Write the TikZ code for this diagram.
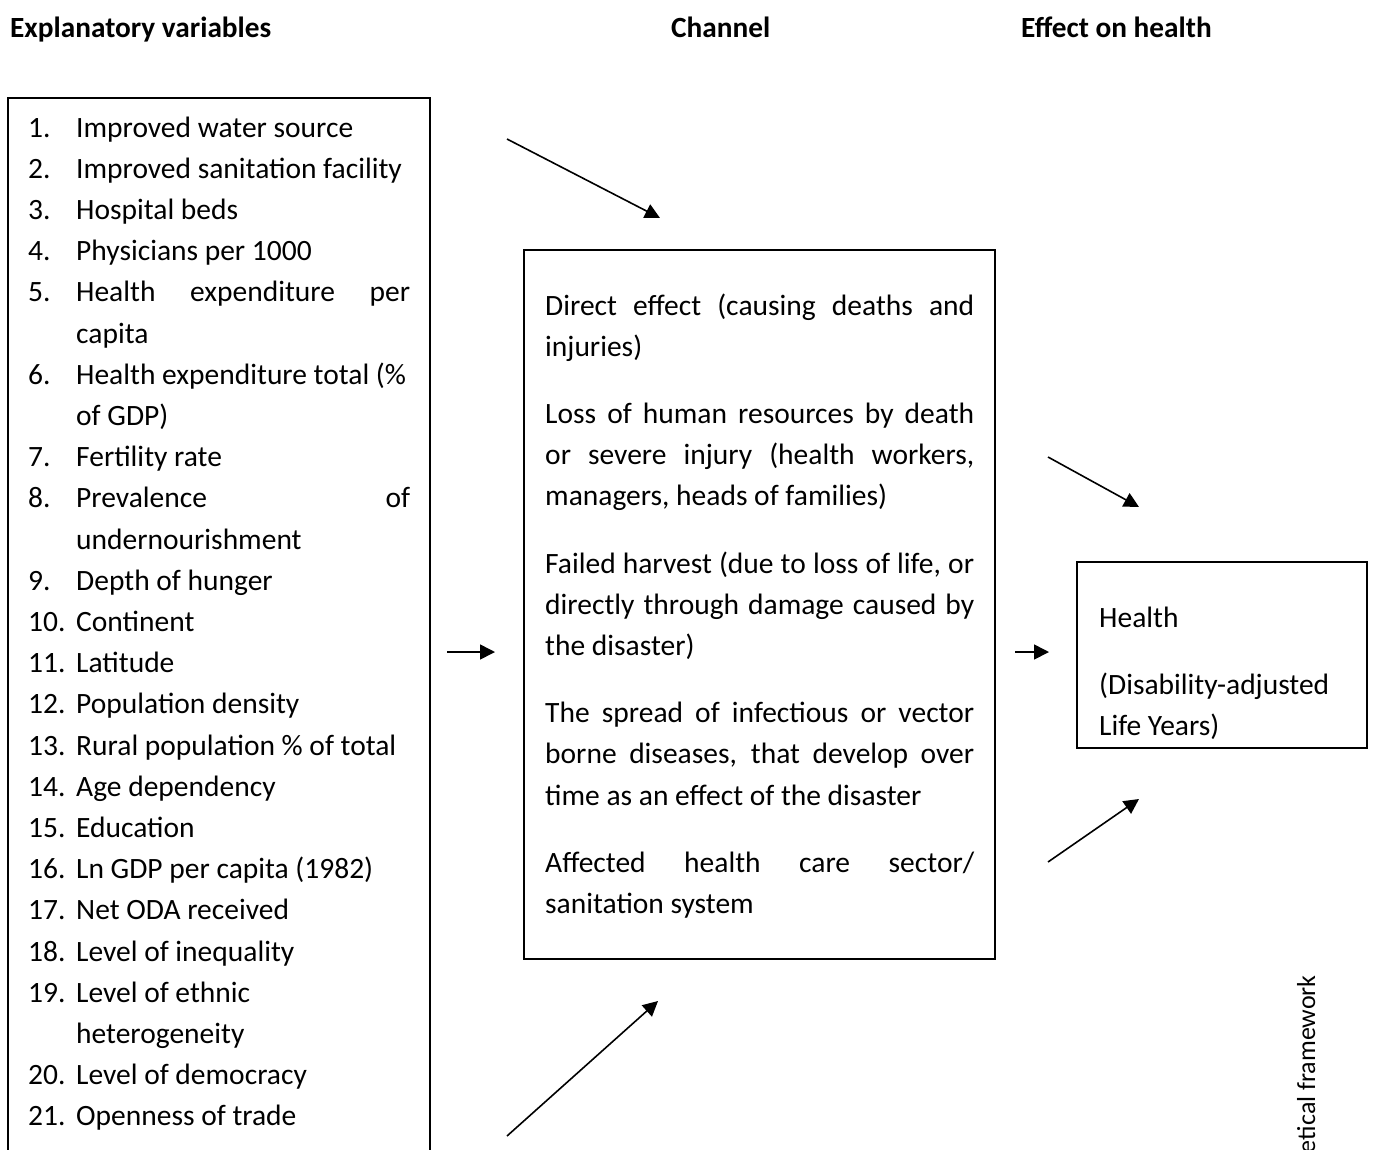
\documentclass[tikz,border=0pt]{standalone}
\usepackage{fontspec}
\setmainfont{Carlito}
\usetikzlibrary{arrows.meta}
\tikzset{
  boxline/.style={draw=black, line width=1.6pt},
  arr/.style={line width=1.6pt, -{Triangle[length=15pt,width=15pt]}},
  txt/.style={inner sep=0pt, anchor=base west, font=\fontsize{29.5}{41.2}\selectfont},
  hdr/.style={inner sep=0pt, anchor=base west, font=\fontsize{29.3}{35}\selectfont\bfseries},
}
\newcommand{\resetsp}{\spaceskip=0pt\relax\xspaceskip=0pt\relax\rightskip=0pt plus 1fil\relax\parindent=0pt\relax}
\newcommand{\numi}[1]{\makebox[48pt][l]{#1}}
\newcommand{\jline}[2]{\makebox[#1][s]{\spaceskip=0pt\relax\xspaceskip=0pt\relax#2}}
\begin{document}
\begin{tikzpicture}[x=1pt,y=-1pt]
\path[use as bounding box] (0,0) rectangle (1373,1149);
\clip (0,0) rectangle (1373,1149);
\fill[white] (0,0) rectangle (1373,1149);

% headers
\node[hdr] (h1) at (10,37) {\resetsp Explanatory variables};
\node[hdr] (h2) at (671,37) {Channel};
\node[hdr] (h3) at (1021,37) {\resetsp Effect on health};

% boxes
\draw[boxline] (8,98) rectangle (430,1170);
\draw[boxline] (524,250) rectangle (995,959);
\draw[boxline] (1077,562) rectangle (1367,748);

% left list
\node[txt, text width=390pt] (list) at (28,137) {\resetsp
\numi{1.}Improved water source\\
\numi{2.}Improved sanitation facility\\
\numi{3.}Hospital beds\\
\numi{4.}Physicians per 1000\\
\numi{5.}\jline{334pt}{Health expenditure per}\\
\numi{}capita\\
\numi{6.}Health expenditure total (\%\\
\numi{}of GDP)\\
\numi{7.}Fertility rate\\
\numi{8.}\jline{334pt}{Prevalence\hfill of}\\
\numi{}undernourishment\\
\numi{9.}Depth of hunger\\
\numi{10.}Continent\\
\numi{11.}Latitude\\
\numi{12.}Population density\\
\numi{13.}Rural population \% of total\\
\numi{14.}Age dependency\\
\numi{15.}Education\\
\numi{16.}Ln GDP per capita (1982)\\
\numi{17.}Net ODA received\\
\numi{18.}Level of inequality\\
\numi{19.}Level of ethnic\\
\numi{}heterogeneity\\
\numi{20.}Level of democracy\\
\numi{21.}Openness of trade};

% middle text
\node[txt, text width=435pt] (chan) at (545,315) {\resetsp
\jline{429pt}{Direct effect (causing deaths and}\\
injuries)\\[26pt]
\jline{429pt}{Loss of human resources by death}\\
\jline{429pt}{or severe injury (health workers,}\\
managers, heads of families)\\[26pt]
\jline{429pt}{Failed harvest (due to loss of life, or}\\
\jline{429pt}{directly through damage caused by}\\
the disaster)\\[26pt]
\jline{429pt}{The spread of infectious or vector}\\
\jline{429pt}{borne diseases, that develop over}\\
time as an effect of the disaster\\[26pt]
\jline{429pt}{Affected health care sector/}\\
sanitation system};

% right text
\node[txt, text width=260pt] (health) at (1099,627) {\resetsp
Health\\[26pt]
(Disability-adjusted\\
Life Years)};

% rotated caption (cut off at the lower edge, as in the reference)
\node[inner sep=0pt, rotate=90, anchor=base east, font=\fontsize{26}{30}\selectfont] (cap) at (1315,975) {\resetsp Theoretical framework};

% arrows
\coordinate (a1s) at (507,139); \coordinate (a1e) at (660,218);
\coordinate (a2s) at (447,652); \coordinate (a2e) at (495,652);
\coordinate (a3s) at (507,1136); \coordinate (a3e) at (658,1001);
\coordinate (a4s) at (1048,457); \coordinate (a4e) at (1139,507);
\coordinate (a5s) at (1015,652); \coordinate (a5e) at (1049,652);
\coordinate (a6s) at (1048,862); \coordinate (a6e) at (1139,799);
\draw[arr] (a1s) -- (a1e);
\draw[arr] (a2s) -- (a2e);
\draw[arr] (a3s) -- (a3e);
\draw[arr] (a4s) -- (a4e);
\draw[arr] (a5s) -- (a5e);
\draw[arr] (a6s) -- (a6e);
\end{tikzpicture}
\end{document}
